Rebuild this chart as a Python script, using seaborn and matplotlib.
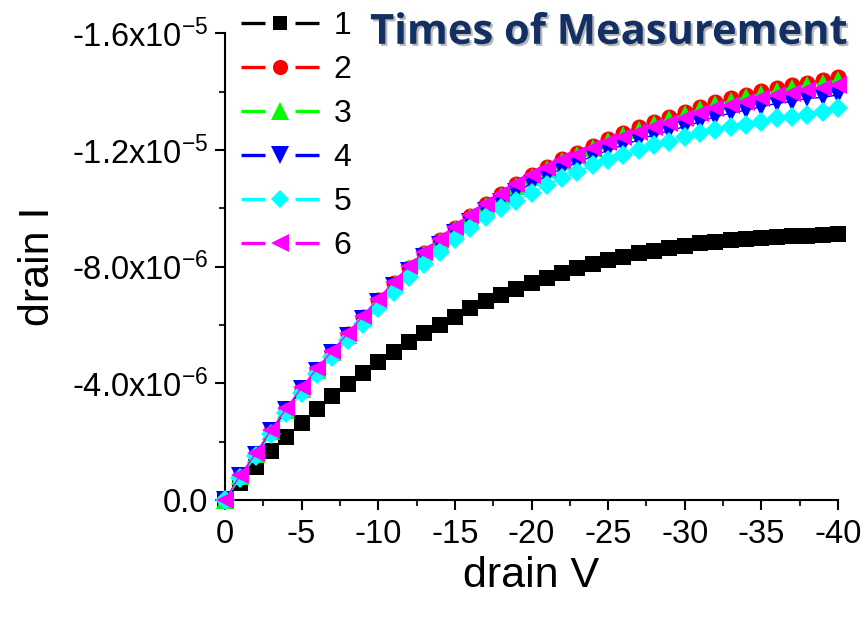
import numpy as np
import pandas as pd
import matplotlib
matplotlib.use("Agg")
import matplotlib.pyplot as plt
import matplotlib.patheffects as pe
from matplotlib.lines import Line2D
from matplotlib.legend_handler import HandlerLine2D
from matplotlib.ticker import FixedLocator
import seaborn as sns

# ---------------- data (drain current magnitude in uA) ----------------
drain_v = [0, -1, -2, -3, -4, -5, -6, -7, -8, -9, -10,
           -11, -12, -13, -14, -15, -16, -17, -18, -19, -20,
           -21, -22, -23, -24, -25, -26, -27, -28, -29, -30,
           -31, -32, -33, -34, -35, -36, -37, -38, -39, -40]

meas_1 = [0, 0.58, 1.14, 1.69, 2.17, 2.65, 3.11, 3.57, 3.97, 4.36, 4.72,
          5.06, 5.41, 5.71, 6.01, 6.28, 6.57, 6.82, 7.03, 7.22, 7.43,
          7.60, 7.77, 7.94, 8.08, 8.23, 8.34, 8.46, 8.55, 8.63, 8.71,
          8.80, 8.86, 8.91, 8.96, 8.97, 9.01, 9.05, 9.05, 9.08, 9.12]
meas_2 = [0, 0.84, 1.58, 2.37, 3.11, 3.82, 4.47, 5.08, 5.68, 6.27, 6.86,
          7.43, 7.97, 8.47, 8.91, 9.34, 9.75, 10.14, 10.49, 10.83, 11.15,
          11.42, 11.70, 11.91, 12.15, 12.38, 12.58, 12.78, 12.97, 13.14, 13.31,
          13.48, 13.66, 13.77, 13.89, 14.03, 14.11, 14.23, 14.31, 14.40, 14.49]
meas_3 = [0, 0.83, 1.57, 2.36, 3.10, 3.80, 4.45, 5.06, 5.66, 6.24, 6.83,
          7.40, 7.94, 8.43, 8.87, 9.30, 9.70, 10.08, 10.43, 10.77, 11.08,
          11.35, 11.62, 11.84, 12.07, 12.30, 12.50, 12.70, 12.88, 13.05, 13.22,
          13.39, 13.56, 13.68, 13.80, 13.93, 14.03, 14.14, 14.22, 14.31, 14.40]
meas_4 = [0, 0.82, 1.56, 2.35, 3.08, 3.79, 4.43, 5.04, 5.62, 6.20, 6.78,
          7.34, 7.86, 8.33, 8.75, 9.16, 9.54, 9.90, 10.23, 10.55, 10.85,
          11.10, 11.36, 11.57, 11.79, 11.99, 12.17, 12.35, 12.52, 12.66, 12.80,
          12.97, 13.14, 13.26, 13.37, 13.48, 13.60, 13.66, 13.77, 13.80, 13.89]
meas_5 = [0, 0.76, 1.50, 2.27, 2.98, 3.68, 4.32, 4.92, 5.50, 6.05, 6.60,
          7.14, 7.63, 8.09, 8.51, 8.94, 9.31, 9.69, 10.00, 10.26, 10.52,
          10.80, 11.03, 11.26, 11.48, 11.66, 11.84, 12.00, 12.17, 12.28, 12.45,
          12.57, 12.68, 12.80, 12.86, 12.97, 13.09, 13.14, 13.20, 13.31, 13.43]
meas_6 = [0, 0.86, 1.60, 2.40, 3.14, 3.86, 4.51, 5.12, 5.71, 6.31, 6.90,
          7.48, 8.02, 8.51, 8.94, 9.37, 9.77, 10.15, 10.49, 10.82, 11.14,
          11.37, 11.66, 11.83, 12.06, 12.28, 12.45, 12.63, 12.80, 12.91, 13.09,
          13.26, 13.43, 13.54, 13.66, 13.77, 13.89, 13.94, 14.06, 14.11, 14.23]

series_labels = ["1", "2", "3", "4", "5", "6"]
series_values = [meas_1, meas_2, meas_3, meas_4, meas_5, meas_6]

x_ticks = [0, -5, -10, -15, -20, -25, -30, -35, -40]
x_tick_labels = ["0", "-5", "-10", "-15", "-20", "-25", "-30", "-35", "-40"]
y_ticks = [0.0, -4e-6, -8e-6, -1.2e-5, -1.6e-5]
y_tick_labels = ["0.0", "-4.0x10$^{-6}$", "-8.0x10$^{-6}$",
                 "-1.2x10$^{-5}$", "-1.6x10$^{-5}$"]

# ---------------- styles ----------------
colors = ["#000000", "#ff0000", "#00ff00", "#0000ff", "#00ffff", "#ff00ff"]
markers = ["s", "o", "^", "v", "D", "<"]
msizes = [11, 11.5, 13.5, 13.5, 10, 13.5]


class GapLineHandler(HandlerLine2D):
    """Origin-style legend entry: line - marker - line with gaps."""
    def create_artists(self, legend, orig_handle, xdescent, ydescent,
                       width, height, fontsize, trans):
        y = height / 2.0 - ydescent
        x0 = -xdescent
        x1 = x0 + width
        xc = (x0 + x1) / 2.0
        gap = 0.19 * width
        col = orig_handle.get_color()
        l1 = Line2D([x0, xc - gap], [y, y], color=col, lw=2.4,
                    solid_capstyle="butt")
        l2 = Line2D([xc + gap, x1], [y, y], color=col, lw=2.4,
                    solid_capstyle="butt")
        mk = Line2D([xc], [y], linestyle="none", marker=orig_handle.get_marker(),
                    markersize=orig_handle.get_markersize() * 0.95,
                    markerfacecolor=col, markeredgewidth=0)
        for a in (l1, l2, mk):
            a.set_transform(trans)
        return [l1, l2, mk]


sns.set_theme(style="ticks")
plt.rcParams["font.family"] = ["Liberation Sans", "DejaVu Sans"]
plt.rcParams["mathtext.fontset"] = "custom"
plt.rcParams["mathtext.rm"] = "Liberation Sans"
plt.rcParams["mathtext.it"] = "Liberation Sans:italic"
plt.rcParams["mathtext.bf"] = "Liberation Sans:bold"
plt.rcParams["text.color"] = "black"
plt.rcParams["axes.labelcolor"] = "black"

fig = plt.figure(figsize=(8.66, 6.17), dpi=100)
ax = fig.add_axes([0.2598, 0.1896, 0.7079, 0.7564])

for k, (lab, vals) in enumerate(zip(series_labels, series_values)):
    df = pd.DataFrame({"drain V": drain_v,
                       "drain I": -np.asarray(vals, dtype=float) * 1e-6})
    sns.lineplot(data=df, x="drain V", y="drain I", ax=ax,
                 color=colors[k], marker=markers[k], markersize=msizes[k],
                 markeredgewidth=0, linewidth=1.0, label=lab,
                 sort=False, estimator=None, clip_on=False, zorder=3 + k)

ax.set_xlim(0, -40)
ax.set_ylim(0, -1.6e-5)

ax.xaxis.set_major_locator(FixedLocator(x_ticks))
ax.set_xticklabels(x_tick_labels)
ax.xaxis.set_minor_locator(FixedLocator([-2.5, -7.5, -12.5, -17.5, -22.5,
                                         -27.5, -32.5, -37.5]))
ax.yaxis.set_major_locator(FixedLocator(y_ticks))
ax.set_yticklabels(y_tick_labels)
ax.yaxis.set_minor_locator(FixedLocator([-2e-6, -6e-6, -1e-5, -1.4e-5]))

for s in ["top", "right"]:
    ax.spines[s].set_visible(False)
for s in ["left", "bottom"]:
    ax.spines[s].set_linewidth(1.5)
    ax.spines[s].set_color("black")

ax.tick_params(axis="both", which="major", direction="out", length=7,
               width=1.5, labelsize=23.5, colors="black")
ax.tick_params(axis="both", which="minor", direction="out", length=4,
               width=1.5)
ax.tick_params(axis="x", which="major", pad=7)
ax.tick_params(axis="y", which="major", pad=5)

ax.set_xlabel("drain V", fontsize=31, color="black")
ax.set_ylabel("drain I", fontsize=31, color="black")
ax.xaxis.set_label_coords(0.499, -0.12)
ax.yaxis.set_label_coords(-0.272, 0.5)

handles, labels = ax.get_legend_handles_labels()
ax.legend(handles, labels, loc="upper left",
          bbox_to_anchor=(0.278, 0.982), bbox_transform=fig.transFigure,
          frameon=False, fontsize=23, handlelength=2.45, handletextpad=0.45,
          labelspacing=0.44, borderpad=0, borderaxespad=0, numpoints=1,
          handler_map={Line2D: GapLineHandler()})

fig.text(0.979, 0.946, "Times of Measurement", ha="right", va="center",
         fontsize=30, fontweight="bold", family=["Open Sans", "DejaVu Sans"],
         color="#132f63",
         path_effects=[pe.withSimplePatchShadow(offset=(1.5, -1.5),
                                                shadow_rgbFace="#888888",
                                                alpha=0.6)])

fig.savefig("out.png", dpi=100)
